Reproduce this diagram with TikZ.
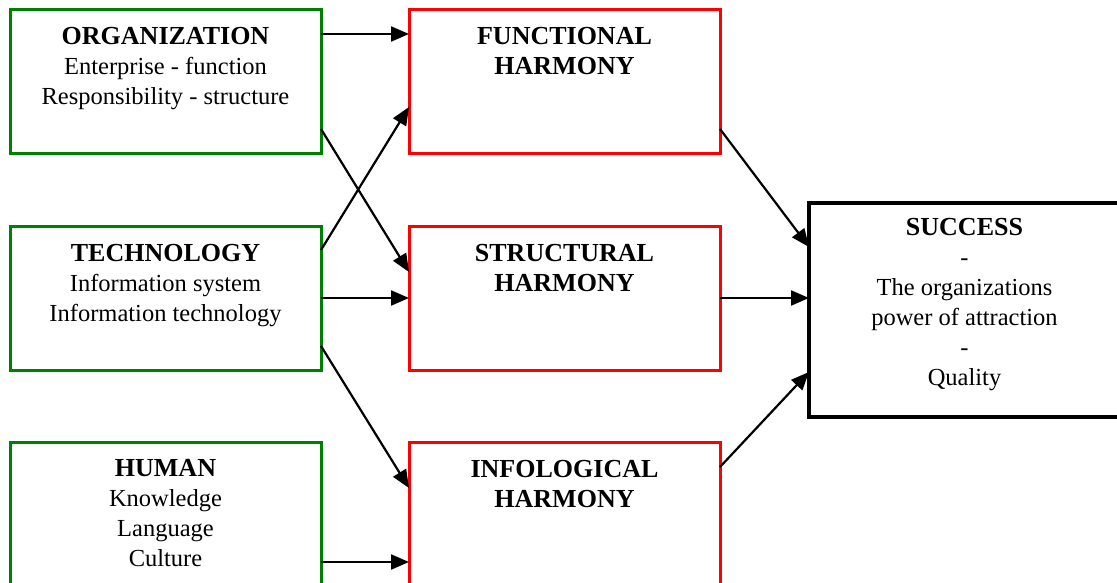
\documentclass[tikz,border=0pt]{standalone}
\usepackage{fontspec}
\setmainfont{Liberation Serif}
\usetikzlibrary{arrows.meta}
\definecolor{boxgreen}{RGB}{0,128,0}
\definecolor{boxred}{RGB}{255,0,0}
% top-aligned, centred text block of a fixed size: height, first baseline drop, text
\newcommand{\cellbody}[3]{\parbox[t][#1][t]{311pt}{\centering\fontsize{24.5}{30}\selectfont\rule{0pt}{#2}#3}}
\newcommand{\headline}[1]{{\fontsize{26}{30}\selectfont\bfseries #1}}
\tikzset{
  cell/.style={draw, line width=3pt, inner sep=0pt, outer sep=0pt, anchor=north west},
  gcell/.style={cell, draw=boxgreen},
  rcell/.style={cell, draw=boxred},
  kcell/.style={cell, draw=black, line width=3.2pt},
  conn/.style={draw=black, line width=2.2pt, -{Triangle[length=18pt,width=15pt]}}
}
\begin{document}
\begin{tikzpicture}[x=1pt,y=1pt]
\fill[white] (0,0) rectangle (1117,-583);
\useasboundingbox (0,0) rectangle (1117,-583);

% input factors
\node[gcell] (org) at (10,-10) {\cellbody{144pt}{35pt}{\headline{ORGANIZATION}\\Enterprise - function\\Responsibility - structure}};
\node[gcell] (tech) at (10,-226) {\cellbody{144pt}{35pt}{\headline{TECHNOLOGY}\\Information system\\Information technology}};
\node[gcell] (human) at (10,-442) {\cellbody{144pt}{34pt}{\headline{HUMAN}\\Knowledge\\Language\\Culture}};

% harmonies
\node[rcell] (func) at (409,-10) {\cellbody{144pt}{35pt}{\headline{FUNCTIONAL}\\\headline{HARMONY}}};
\node[rcell] (struct) at (409,-226) {\cellbody{144pt}{35pt}{\headline{STRUCTURAL}\\\headline{HARMONY}}};
\node[rcell] (info) at (409,-442) {\cellbody{144pt}{35pt}{\headline{INFOLOGICAL}\\\headline{HARMONY}}};

% outcome
\node[kcell] (success) at (809,-203) {\cellbody{214pt}{32pt}{\headline{SUCCESS}\\-\\The organizations\\power of attraction\\-\\Quality}};

% connectors
\draw[conn] ([yshift=-24pt]org.north east) -- ([yshift=-24pt]func.north west);
\draw[conn] ([yshift=-119pt]org.north east) -- ([yshift=-46pt]struct.north west);
\draw[conn] ([yshift=-24pt]tech.north east) -- ([yshift=-97pt]func.north west);
\draw[conn] (tech.east) -- (struct.west);
\draw[conn] ([yshift=-120pt]tech.north east) -- ([yshift=-46pt]info.north west);
\draw[conn] ([yshift=-120pt]human.north east) -- ([yshift=-120pt]info.north west);
\draw[conn] ([yshift=-119pt]func.north east) -- ([yshift=-44pt]success.north west);
\draw[conn] (struct.east) -- ([yshift=-95pt]success.north west);
\draw[conn] ([yshift=-25pt]info.north east) -- ([yshift=-169pt]success.north west);
\end{tikzpicture}
\end{document}
